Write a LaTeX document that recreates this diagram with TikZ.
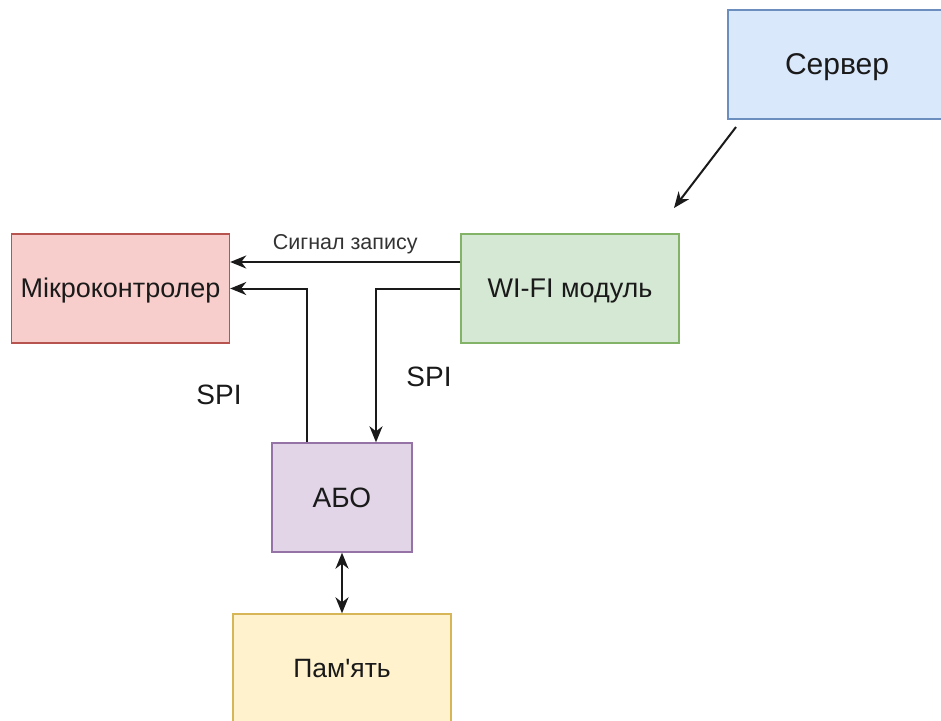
\documentclass[tikz,border=0pt]{standalone}
\usepackage{fontspec}
\setmainfont{Liberation Sans}[Ligatures=TeXOff]
\usetikzlibrary{arrows.meta}
\definecolor{srvfill}{HTML}{DAE8FC}\definecolor{srvline}{HTML}{6C8EBF}
\definecolor{mcufill}{HTML}{F8CECC}\definecolor{mculine}{HTML}{B85450}
\definecolor{wififill}{HTML}{D5E8D4}\definecolor{wifiline}{HTML}{82B366}
\definecolor{abofill}{HTML}{E1D5E7}\definecolor{aboline}{HTML}{9673A6}
\definecolor{memfill}{HTML}{FFF2CC}\definecolor{memline}{HTML}{D6B656}
\definecolor{ink}{HTML}{1A1A1A}
% text size with the box height set to the cap height, so the caps sit centred
\tikzset{
  fsz/.style={font=\fontsize{#1}{#1}\selectfont, text height=0.688*#1 pt, text depth=0pt},
  block/.style={rectangle, draw, line width=1.4pt, inner sep=0pt, text=ink,
    minimum width=218pt, minimum height=109pt, fsz=27},
  link/.style={line width=2pt, draw=ink,
    -{Stealth[length=16pt 0, width=13pt 0, inset=5pt 0]}},
  biglabel/.style={fsz=28, text=ink, inner sep=0pt},
  smalllabel/.style={fsz=21.5, text=black!80, inner sep=0pt},
}
\begin{document}
\begin{tikzpicture}[x=1pt,y=-1pt]
\useasboundingbox (0,0) rectangle (941,720);
\clip (0,0) rectangle (941,720);
\fill[white] (0,0) rectangle (941,720);

% blocks
\node[block, fill=srvfill, draw=srvline, fsz=30] (server) at (837,64.5) {Сервер};
\node[block, fill=mcufill, draw=mculine] (mcu) at (120.5,288.5) {Мікроконтролер};
\node[block, fill=wififill, draw=wifiline] (wifi) at (570,288.5) {WI-FI модуль};
\node[block, fill=abofill, draw=aboline, minimum width=140pt, fsz=28] (abo) at (342,497.5) {АБО};
\node[block, fill=memfill, draw=memline, fsz=26.5] (mem) at (342,668.5) {Пам'ять};

% server to Wi-Fi module
\coordinate (srvout) at (736,127);
\coordinate (wifiin) at (674,208);
\draw[link] (srvout) -- (wifiin);

% write signal
\draw[link] ([yshift=26.5pt]wifi.west) -- node[smalllabel, above=12pt] {Сигнал запису} ([yshift=26.5pt]mcu.east);

% SPI buses
\draw[link] ([xshift=-35pt]abo.north) |- (mcu.east);
\draw[link] (wifi.west) -| ([xshift=34pt]abo.north);

% ABO <-> memory
\draw[line width=2pt, draw=ink,
  {Stealth[length=16pt 0, width=13pt 0, inset=5pt 0]}-{Stealth[length=16pt 0, width=13pt 0, inset=5pt 0]}]
  (abo.south) -- (mem.north);

\node[biglabel] (spi1) at (219,395) {SPI};
\node[biglabel] (spi2) at (429,377) {SPI};
\end{tikzpicture}
\end{document}
